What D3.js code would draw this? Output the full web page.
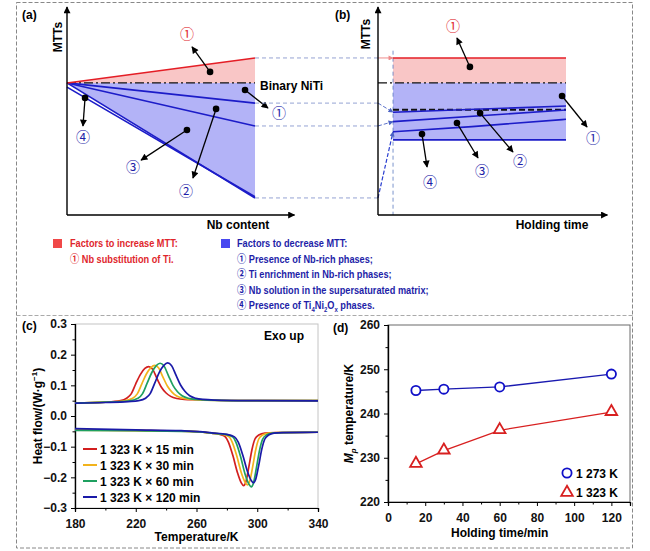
<!DOCTYPE html>
<html><head><meta charset="utf-8">
<script src="https://cdn.jsdelivr.net/npm/d3@7"></script>
<style>
body{margin:0;background:#fff;}
svg{display:block;font-family:Arial,"Liberation Sans",sans-serif;}
</style></head><body>
<svg id="chart" width="650" height="551"></svg>
<script>
// ---------------- DATA ----------------
// (a) schematic: MTT vs Nb content (arbitrary units)
const nbContent = [0, 10];
const mttRedA   = [6.35, 7.55];
const mttBinA   = [6.35, 6.35];
const mttBlue1A = [6.35, 5.38];
const mttBlue2A = [6.35, 4.28];
const mttBlue3A = [6.35, 0.82];
const mttBlue4A = [6.15, 0.88];
// (b) schematic: MTT vs holding time (arbitrary units)
const holdT     = [0.8, 10];
const holdT3    = [0.8, 5, 10];
const mttRedB   = [7.55, 7.55];
const mttBinB   = [6.35, 6.35];
const mttRefB   = [5.06, 5.06];
const mttB1     = [4.94, 5.24];
const mttB2     = [4.49, 5.05];
const mttB3     = [4.00, 4.25, 4.60];
const mttB4     = [3.61, 3.61];
// annotation anchors [dotX, dotY, tipX, tipY, labelX, labelY]
const annA = [
  {c:'red',  t:'①', v:[7.61,6.88, 6.65,8.08, 6.38,8.75]},
  {c:'blue', t:'①', v:[9.47,6.01, 10.69,5.14, 11.28,4.95]},
  {c:'blue', t:'②', v:[7.93,5.10, 6.70,1.78, 6.33,1.20]},
  {c:'blue', t:'③', v:[6.38,4.09, 3.94,2.64, 3.51,2.36]},
  {c:'blue', t:'④', v:[0.96,5.63, 0.85,4.28, 0.85,3.78]}
];
const annB = [
  {c:'red',  t:'①', v:[4.89,7.12, 4.20,8.51, 3.99,9.13]},
  {c:'blue', t:'①', v:[9.79,5.72, 11.12,4.23, 11.44,3.75]},
  {c:'blue', t:'②', v:[5.43,4.90, 7.18,3.03, 7.55,2.64]},
  {c:'blue', t:'③', v:[4.20,4.42, 5.32,2.74, 5.53,2.16]},
  {c:'blue', t:'④', v:[2.34,3.89, 2.61,2.31, 2.77,1.63]}
];
// legend texts
const incTitle = 'Factors to increase MTT:';
const incItems = ['① Nb substitution of Ti.'];
const decTitle = 'Factors to decrease MTT:';
const decItems = ['① Presence of Nb-rich phases;', '② Ti enrichment in Nb-rich phases;', '③ Nb solution in the supersaturated matrix;'];

// (c) DSC curves: [T (K), heat flow W/g]
const dscLabels = ['1 323 K × 15 min','1 323 K × 30 min','1 323 K × 60 min','1 323 K × 120 min'];
const coolRed = [[180,0.042],[200,0.045],[210,0.050],[214,0.058],[217,0.072],[220,0.105],[223,0.135],[226,0.155],[228.5,0.161],[231,0.153],[234,0.122],[237,0.093],[240,0.075],[243,0.064],[247,0.057],[252,0.054],[260,0.053],[300,0.050],[340,0.050]];
const coolYel = [[180,0.042],[200,0.045],[212,0.049],[218,0.058],[221,0.072],[224,0.105],[227,0.137],[230,0.158],[232.5,0.165],[235,0.157],[238,0.126],[241,0.096],[244,0.077],[247,0.065],[251,0.058],[256,0.054],[264,0.052],[300,0.050],[340,0.050]];
const coolGrn = [[180,0.042],[200,0.045],[215,0.049],[221.5,0.058],[224.5,0.073],[227.5,0.107],[230.5,0.141],[233.5,0.164],[236,0.172],[238.5,0.164],[241.5,0.132],[244.5,0.100],[247.5,0.079],[250.5,0.066],[254.5,0.058],[259.5,0.054],[267,0.052],[300,0.050],[340,0.050]];
const coolBlu = [[180,0.042],[200,0.044],[215,0.047],[222,0.050],[226.5,0.058],[229.5,0.073],[232.5,0.107],[235.5,0.142],[238.5,0.165],[241,0.173],[243.5,0.165],[246.5,0.133],[249.5,0.101],[252.5,0.080],[255.5,0.066],[259.5,0.058],[264.5,0.054],[272,0.052],[300,0.050],[340,0.049]];
const heatRed = [[180,-0.045],[220,-0.047],[250,-0.049],[262,-0.052],[270,-0.056],[276,-0.061],[279,-0.068],[281,-0.085],[284,-0.13],[287,-0.185],[289.5,-0.218],[291,-0.227],[292.5,-0.215],[294.5,-0.165],[296.5,-0.11],[298.5,-0.075],[301,-0.062],[305,-0.056],[312,-0.054],[340,-0.053]];
const heatYel = [[180,-0.046],[220,-0.048],[250,-0.049],[262,-0.052],[270,-0.056],[278,-0.061],[281.5,-0.068],[283.5,-0.085],[286.5,-0.13],[289.5,-0.185],[292,-0.216],[293.5,-0.225],[295,-0.213],[297,-0.165],[299,-0.11],[301,-0.075],[303.5,-0.062],[307.5,-0.056],[314,-0.054],[340,-0.053]];
const heatGrn = [[180,-0.047],[220,-0.048],[250,-0.050],[262,-0.052],[270,-0.056],[280,-0.061],[284,-0.069],[286,-0.086],[289,-0.132],[292,-0.19],[294.5,-0.222],[296,-0.231],[297.5,-0.219],[299.5,-0.168],[301.5,-0.112],[303.5,-0.076],[306,-0.062],[310,-0.056],[316,-0.054],[340,-0.053]];
const heatBlu = [[180,-0.041],[220,-0.045],[250,-0.048],[262,-0.051],[270,-0.055],[280,-0.060],[285,-0.068],[287.5,-0.085],[290.5,-0.128],[293.5,-0.18],[296,-0.21],[297.5,-0.218],[299,-0.206],[301,-0.16],[303,-0.108],[305,-0.075],[307.5,-0.062],[311,-0.056],[317,-0.054],[340,-0.053]];
const yTicksC = [-0.3,-0.2,-0.1,0.0,0.1,0.2,0.3];
const xTicksC = [180,220,260,300,340];

// (d) Mp temperature vs holding time
const holdMin = [15, 30, 60, 120];
const mp1273 = [245.2, 245.5, 246.0, 248.9];
const mp1323 = [228.6, 231.6, 236.2, 240.3];
const xTicksD = [0,20,40,60,80,100,120];
const yTicksD = [220,230,240,250,260];

// ---------------- DRAW ----------------
const svg = d3.select('#chart');
svg.append('rect').attr('width',650).attr('height',551).attr('fill','#fff');
const defs = svg.append('defs');
function marker(id, color, w, h){
  defs.append('marker').attr('id',id).attr('viewBox','0 0 10 10').attr('refX',9).attr('refY',5)
    .attr('markerWidth',w).attr('markerHeight',h).attr('markerUnits','userSpaceOnUse').attr('orient','auto')
    .append('path').attr('d','M0,0 L10,5 L0,10 Z').attr('fill',color);
}
marker('ak','#000',8,7); marker('ax','#000',10,7); marker('ab','#4a62c4',6,5); marker('ap','#ee8a8a',7,5);

// frames
const fr = svg.append('g').attr('fill','none').attr('stroke','#888').attr('stroke-dasharray','4,2');
fr.append('rect').attr('x',16.5).attr('y',2.5).attr('width',616).attr('height',545.5);
fr.append('line').attr('x1',16.5).attr('x2',632.5).attr('y1',315.5).attr('y2',315.5).attr('stroke','#aaa');

const RED='#e41e26', BLUE='#1c1cc8', RFILL='#f9c6c6', BFILL='#b3b3f7', TRED='#e0262c', TBLUE='#1e1ea8';
const CJK = '"Noto Sans CJK SC",serif';
const yS = d3.scaleLinear().domain([0,10]).range([215,7]);
const xA = d3.scaleLinear().domain([0,10]).range([67,255]);
const xB = d3.scaleLinear().domain([0,10]).range([378,566]);
const zip = (xs,ys)=>xs.map((x,i)=>[x,ys[i]]);

function axesAB(g, x, xEnd){
  g.append('line').attr('x1',x(0)).attr('x2',x(0)).attr('y1',yS(0)).attr('y2',yS(10))
    .attr('stroke','#000').attr('stroke-width',1.4).attr('marker-end','url(#ax)');
  g.append('line').attr('x1',x(0)).attr('x2',x(xEnd)).attr('y1',yS(0)).attr('y2',yS(0))
    .attr('stroke','#000').attr('stroke-width',1.4).attr('marker-end','url(#ax)');
}
function annotate(g, x, list){
  list.forEach(a=>{
    const v=a.v;
    g.append('line').attr('x1',x(v[0])).attr('y1',yS(v[1])).attr('x2',x(v[2])).attr('y2',yS(v[3]))
      .attr('stroke','#000').attr('stroke-width',1.3).attr('marker-end','url(#ak)');
    g.append('circle').attr('cx',x(v[0])).attr('cy',yS(v[1])).attr('r',3.3).attr('fill','#000');
    g.append('text').attr('x',x(v[4])).attr('y',yS(v[5])).attr('text-anchor','middle').attr('dominant-baseline','central')
      .attr('font-family',CJK).attr('font-size',14)
      .attr('fill',a.c==='red'?TRED:TBLUE).text(a.t);
  });
}

// ---- panel (a)
const gA = svg.append('g');
const lA = d3.line().x(d=>xA(d[0])).y(d=>yS(d[1]));
gA.append('path').attr('d',lA([[nbContent[0],mttRedA[0]],[nbContent[1],mttRedA[1]],[nbContent[1],mttBinA[1]]])+'Z').attr('fill',RFILL);
gA.append('path').attr('d',lA([[nbContent[0],mttBinA[0]],[nbContent[1],mttBinA[1]],[nbContent[1],mttBlue3A[1]]])+'Z').attr('fill',BFILL);
// connectors to (b)
[mttRedA[1], mttBlue1A[1], mttBlue2A[1], mttBlue3A[1]].forEach(v=>{
  svg.append('line').attr('x1',xA(10)).attr('x2',xB(0)).attr('y1',yS(v)).attr('y2',yS(v))
    .attr('stroke','#7a8cc8').attr('stroke-width',0.8).attr('stroke-dasharray','4,3');
});
gA.append('path').attr('d',lA(zip(nbContent,mttBinA))).attr('fill','none').attr('stroke','#111').attr('stroke-width',1.1).attr('stroke-dasharray','9,3,2,3');
[mttBlue1A, mttBlue2A, mttBlue3A, mttBlue4A].forEach(s=>{
  gA.append('path').attr('d',lA(zip(nbContent,s))).attr('fill','none').attr('stroke',BLUE).attr('stroke-width',1.6);
});
gA.append('path').attr('d',lA(zip(nbContent,mttRedA))).attr('fill','none').attr('stroke',RED).attr('stroke-width',1.6);
axesAB(gA, xA, 12.1);
annotate(gA, xA, annA);
gA.append('text').attr('x',22).attr('y',19).attr('font-weight','bold').attr('font-size',12).text('(a)');
gA.append('text').attr('transform','translate(62,37) rotate(-90)').attr('text-anchor','middle').attr('font-weight','bold').attr('font-size',12).text('MTTs');
gA.append('text').attr('x',260).attr('y',90).attr('font-weight','bold').attr('font-size',12).text('Binary NiTi');
gA.append('text').attr('x',238).attr('y',229).attr('text-anchor','middle').attr('font-weight','bold').attr('font-size',12).text('Nb content');

// ---- panel (b)
const gB = svg.append('g');
const lB = d3.line().x(d=>xB(d[0])).y(d=>yS(d[1]));
const lBc = d3.line().x(d=>xB(d[0])).y(d=>yS(d[1])).curve(d3.curveMonotoneX);
gB.append('rect').attr('x',xB(holdT[0])).attr('width',xB(holdT[1])-xB(holdT[0])).attr('y',yS(mttRedB[0])).attr('height',yS(mttBinB[0])-yS(mttRedB[0])).attr('fill',RFILL);
gB.append('rect').attr('x',xB(holdT[0])).attr('width',xB(holdT[1])-xB(holdT[0])).attr('y',yS(mttBinB[0])).attr('height',yS(mttB4[0])-yS(mttBinB[0])).attr('fill',BFILL);
gB.append('line').attr('x1',xB(holdT[0])).attr('x2',xB(holdT[0])).attr('y1',yS(7.9)).attr('y2',yS(0))
  .attr('stroke','#5a78c0').attr('stroke-width',0.8).attr('stroke-dasharray','4,3');
// incoming arrows
gB.append('line').attr('x1',xB(0)).attr('x2',xB(holdT[0])).attr('y1',yS(mttRedA[1])).attr('y2',yS(mttRedB[0]))
  .attr('stroke','#ee8a8a').attr('stroke-width',1).attr('marker-end','url(#ap)');
[[mttBlue1A[1],mttB1[0]],[mttBlue2A[1],mttB2[0]],[mttBlue3A[1],mttB3[0]]].forEach((p,i)=>{
  gB.append('line').attr('x1',xB(0)).attr('x2',xB(holdT[0])).attr('y1',yS(p[0])).attr('y2',yS(p[1]))
    .attr('stroke',i===2?'#2a3ed0':'#4a62c4').attr('stroke-width',i===2?1.2:0.9).attr('stroke-dasharray','4,2').attr('marker-end','url(#ab)');
});
gB.append('path').attr('d',lB([[0,mttBinB[0]],[holdT[1],mttBinB[1]]])).attr('fill','none').attr('stroke','#111').attr('stroke-width',1.1).attr('stroke-dasharray','9,3,2,3');
gB.append('path').attr('d',lB(zip(holdT,mttRefB))).attr('fill','none').attr('stroke','#111').attr('stroke-width',1.8).attr('stroke-dasharray','6,3');
gB.append('path').attr('d',lB(zip(holdT,mttB1))).attr('fill','none').attr('stroke',BLUE).attr('stroke-width',1.6);
gB.append('path').attr('d',lB(zip(holdT,mttB2))).attr('fill','none').attr('stroke',BLUE).attr('stroke-width',1.6);
gB.append('path').attr('d',lBc(zip(holdT3,mttB3))).attr('fill','none').attr('stroke',BLUE).attr('stroke-width',1.6);
gB.append('path').attr('d',lB(zip(holdT,mttB4))).attr('fill','none').attr('stroke',BLUE).attr('stroke-width',1.6);
gB.append('path').attr('d',lB(zip(holdT,mttRedB))).attr('fill','none').attr('stroke',RED).attr('stroke-width',1.6);
axesAB(gB, xB, 12.2);
annotate(gB, xB, annB);
gB.append('text').attr('x',335).attr('y',19).attr('font-weight','bold').attr('font-size',12).text('(b)');
gB.append('text').attr('transform','translate(370,34) rotate(-90)').attr('text-anchor','middle').attr('font-weight','bold').attr('font-size',12).text('MTTs');
gB.append('text').attr('x',552).attr('y',229).attr('text-anchor','middle').attr('font-weight','bold').attr('font-size',12).text('Holding time');

// ---- legend block (condensed bold text)
const gL = svg.append('g').attr('font-weight','bold').attr('font-size',11.5)
  .attr('font-family','Arial,"Liberation Sans","Noto Sans CJK SC",sans-serif');
function ltext(x, y, color){
  return gL.append('text').attr('transform',`translate(${x},${y}) scale(0.8,1)`).attr('fill',color);
}
gL.append('rect').attr('x',53).attr('y',239).attr('width',9).attr('height',9).attr('fill','#f04848');
ltext(70,247,TRED).text(incTitle);
incItems.forEach((t,i)=>ltext(70,262.5+i*15.6,TRED).text(t));
gL.append('rect').attr('x',221).attr('y',239).attr('width',9).attr('height',9).attr('fill','#4848f0');
ltext(237,247,TBLUE).text(decTitle);
decItems.forEach((t,i)=>ltext(237,262.5+i*15.6,TBLUE).text(t));
const t4 = ltext(237,262.5+3*15.6,TBLUE);
t4.append('tspan').text('④ Presence of Ti');
t4.append('tspan').attr('font-size',7.5).attr('dy',2.5).text('4');
t4.append('tspan').attr('dy',-2.5).text('Ni');
t4.append('tspan').attr('font-size',7.5).attr('dy',2.5).text('2');
t4.append('tspan').attr('dy',-2.5).text('O');
t4.append('tspan').attr('font-size',7.5).attr('dy',2.5).text('x');
t4.append('tspan').attr('dy',-2.5).text(' phases.');

// ---- panel (c)
const xC = d3.scaleLinear().domain([180,340]).range([75,318]);
const yC = d3.scaleLinear().domain([-0.3,0.3]).range([508,324]);
const gC = svg.append('g');
gC.append('rect').attr('x',xC(180)).attr('y',yC(0.3)).attr('width',xC(340)-xC(180)).attr('height',yC(-0.3)-yC(0.3))
  .attr('fill','none').attr('stroke','#c4c4c4');
const axCy = d3.axisLeft(yC).tickValues(yTicksC).tickSize(4).tickFormat(d=>d===0?'0.0':d3.format('.1f')(d).replace('-','\u2212'));
const axCyMin = d3.axisLeft(yC).tickValues([-0.25,-0.15,-0.05,0.05,0.15,0.25]).tickSize(2.5).tickFormat('');
const axCx = d3.axisBottom(xC).tickValues(xTicksC).tickSize(4);
const axCxMin = d3.axisBottom(xC).tickValues([200,240,280,320]).tickSize(2.5).tickFormat('');
function styleAx(g){ g.selectAll('text').attr('font-weight','bold').attr('font-size',12).attr('fill','#111').attr('font-family','Arial,"Liberation Sans",sans-serif');
  g.select('.domain').attr('stroke','#000').attr('stroke-width',1.2); g.selectAll('.tick line').attr('stroke','#000'); }
gC.append('g').attr('transform',`translate(${xC(180)},0)`).call(axCyMin).call(styleAx);
gC.append('g').attr('transform',`translate(${xC(180)},0)`).call(axCy).call(styleAx).selectAll('text').attr('dx',-1);
gC.append('g').attr('transform',`translate(0,${yC(-0.3)})`).call(axCxMin).call(styleAx);
gC.append('g').attr('transform',`translate(0,${yC(-0.3)})`).call(axCx).call(styleAx).selectAll('text').attr('dy','1.05em');
const lC = d3.line().x(d=>xC(d[0])).y(d=>yC(d[1])).curve(d3.curveMonotoneX);
const colsC = ['#d21f1f','#f2b31c','#1fa060','#1a1aa8'];
[[coolRed,heatRed],[coolYel,heatYel],[coolGrn,heatGrn],[coolBlu,heatBlu]].forEach((p,i)=>{
  p.forEach(s=>gC.append('path').attr('d',lC(s)).attr('fill','none').attr('stroke',colsC[i]).attr('stroke-width',1.7));
});
gC.append('text').attr('x',22).attr('y',330).attr('font-weight','bold').attr('font-size',12).text('(c)');
gC.append('text').attr('x',264).attr('y',340).attr('font-weight','bold').attr('font-size',12).text('Exo up');
const yl = gC.append('text').attr('transform',`translate(42,${(yC(0.3)+yC(-0.3))/2}) rotate(-90)`).attr('text-anchor','middle').attr('font-weight','bold').attr('font-size',12);
yl.append('tspan').text('Heat flow/(W·g');
yl.append('tspan').attr('font-size',8).attr('dy',-5).text('\u22121');
yl.append('tspan').attr('dy',5).text(')');
gC.append('text').attr('x',(xC(180)+xC(340))/2).attr('y',541).attr('text-anchor','middle').attr('font-weight','bold').attr('font-size',12).text('Temperature/K');
dscLabels.forEach((t,i)=>{
  const y = 449 + i*16;
  gC.append('line').attr('x1',83).attr('x2',97).attr('y1',y).attr('y2',y).attr('stroke',colsC[i]).attr('stroke-width',2);
  gC.append('text').attr('x',100).attr('y',y+4.5).attr('font-weight','bold').attr('font-size',12).text(t);
});

// ---- panel (d)
const xD = d3.scaleLinear().domain([0,130]).range([388,630]);
const yD = d3.scaleLinear().domain([220,260]).range([502,325]);
const gD = svg.append('g');
gD.append('rect').attr('x',xD(0)).attr('y',yD(260)).attr('width',xD(130)-xD(0)).attr('height',yD(220)-yD(260))
  .attr('fill','none').attr('stroke','#6a6a6a');
gD.append('g').attr('transform',`translate(${xD(0)},0)`).call(d3.axisLeft(yD).tickValues([225,235,245,255]).tickSize(2.5).tickFormat('')).call(styleAx);
gD.append('g').attr('transform',`translate(${xD(0)},0)`).call(d3.axisLeft(yD).tickValues(yTicksD).tickSize(4)).call(styleAx).selectAll('text').attr('dx',-1);
gD.append('g').attr('transform',`translate(0,${yD(220)})`).call(d3.axisBottom(xD).tickValues([10,30,50,70,90,110,130]).tickSize(2.5).tickFormat('')).call(styleAx);
gD.append('g').attr('transform',`translate(0,${yD(220)})`).call(d3.axisBottom(xD).tickValues(xTicksD).tickSize(4)).call(styleAx).selectAll('text').attr('dy','1.05em');
const lD = d3.line().x(d=>xD(d[0])).y(d=>yD(d[1]));
const s1273 = zip(holdMin, mp1273), s1323 = zip(holdMin, mp1323);
gD.append('path').attr('d',lD(s1273)).attr('fill','none').attr('stroke','#1a1ab0').attr('stroke-width',1.3);
gD.append('path').attr('d',lD(s1323)).attr('fill','none').attr('stroke','#d82020').attr('stroke-width',1.3);
const tri = d3.symbol().type(d3.symbolTriangle).size(58);
s1273.forEach(d=>gD.append('circle').attr('cx',xD(d[0])).attr('cy',yD(d[1])).attr('r',4.6).attr('fill','#fff').attr('stroke','#1010c8').attr('stroke-width',1.8));
s1323.forEach(d=>gD.append('path').attr('d',tri()).attr('transform',`translate(${xD(d[0])},${yD(d[1])-0.5})`).attr('fill','#fff').attr('stroke','#d82020').attr('stroke-width',1.8));
gD.append('text').attr('x',333).attr('y',332).attr('font-weight','bold').attr('font-size',12).text('(d)');
const yd = gD.append('text').attr('transform',`translate(353,${(yD(220)+yD(260))/2}) rotate(-90)`).attr('text-anchor','middle').attr('font-weight','bold').attr('font-size',12);
yd.append('tspan').attr('font-style','italic').text('M');
yd.append('tspan').attr('font-style','italic').attr('font-size',8).attr('dy',3).text('p');
yd.append('tspan').attr('dy',-3).text(' temperature/K');
gD.append('text').attr('x',(xD(0)+xD(120))/2).attr('y',537).attr('text-anchor','middle').attr('font-weight','bold').attr('font-size',12).text('Holding time/min');
gD.append('circle').attr('cx',567).attr('cy',473).attr('r',4.6).attr('fill','#fff').attr('stroke','#1010c8').attr('stroke-width',1.8);
gD.append('text').attr('x',576).attr('y',477.5).attr('font-weight','bold').attr('font-size',12).text('1 273 K');
gD.append('path').attr('d',tri()).attr('transform','translate(567,492.5)').attr('fill','#fff').attr('stroke','#d82020').attr('stroke-width',1.8);
gD.append('text').attr('x',576).attr('y',497).attr('font-weight','bold').attr('font-size',12).text('1 323 K');
</script></body></html>
